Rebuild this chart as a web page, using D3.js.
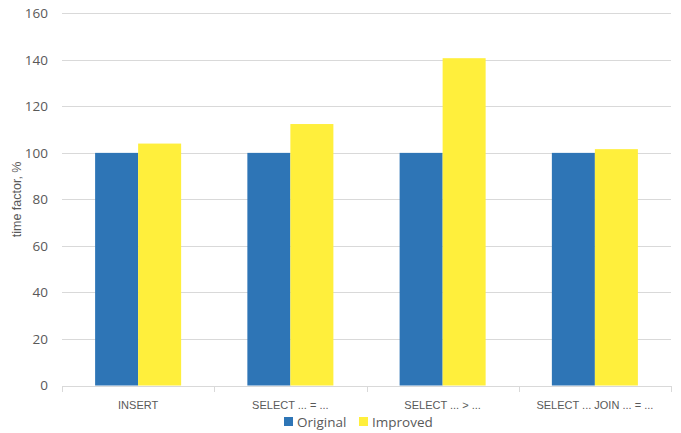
<!DOCTYPE html>
<html>
<head>
<meta charset="utf-8">
<script src="https://cdn.jsdelivr.net/npm/d3@7"></script>
<style>
html,body{margin:0;padding:0;background:#fff;}
text{font-family:"Open Sans","Liberation Sans",sans-serif;fill:#595959;}
</style>
</head>
<body>
<svg id="chart" width="681" height="433"></svg>
<script>
const categories = ["INSERT", "SELECT ... = ...", "SELECT ... > ...", "SELECT ... JOIN ... = ..."];
const seriesNames = ["Original", "Improved"];
const original = [100, 100, 100, 100];
const improved = [104, 112.4, 140.7, 101.6];
const yTicks = [0, 20, 40, 60, 80, 100, 120, 140, 160];
const colors = ["#2e75b6", "#ffef3c"];

const svg = d3.select("#chart");
const plotLeft = 62, plotRight = 671, plotTop = 13.3, plotBottom = 385.5;

const x = d3.scaleBand().domain(categories).range([plotLeft, plotRight]).paddingInner(0.435).paddingOuter(0.2175);
const xs = d3.scaleBand().domain(seriesNames).range([0, x.bandwidth()]);
const y = d3.scaleLinear().domain([0, 160]).range([plotBottom, plotTop]);

// gridlines
svg.append("g").selectAll("line").data(yTicks.filter(d => d > 0)).join("line")
  .attr("x1", plotLeft).attr("x2", plotRight)
  .attr("y1", d => Math.round(y(d)) + 0.5).attr("y2", d => Math.round(y(d)) + 0.5)
  .attr("stroke", "#d9d9d9").attr("stroke-width", 1);

// y tick labels
svg.append("g").selectAll("text").data(yTicks).join("text")
  .attr("x", 48).attr("y", d => y(d)).attr("dy", "0.35em")
  .attr("text-anchor", "end").style("font-size", "13.5px").text(d => d);

// bars
const data = categories.map((c, i) => ({c, vals: [original[i], improved[i]]}));
const groups = svg.append("g").selectAll("g").data(data).join("g")
  .attr("transform", d => `translate(${x(d.c)},0)`);
groups.selectAll("rect").data(d => d.vals.map((v, j) => ({v, s: seriesNames[j], j}))).join("rect")
  .attr("x", d => xs(d.s)).attr("width", xs.bandwidth())
  .attr("y", d => y(d.v)).attr("height", d => y(0) - y(d.v))
  .attr("fill", d => colors[d.j]);

// x axis line and ticks
const boundaries = categories.map((c, i) => plotLeft + i * x.step());
boundaries.push(plotRight);
svg.append("line").attr("x1", plotLeft).attr("x2", plotRight)
  .attr("y1", Math.round(plotBottom) + 0.5).attr("y2", Math.round(plotBottom) + 0.5)
  .attr("stroke", "#d9d9d9");
svg.append("g").selectAll("line").data(boundaries).join("line")
  .attr("x1", d => Math.round(d) + 0.5).attr("x2", d => Math.round(d) + 0.5)
  .attr("y1", Math.round(plotBottom)).attr("y2", Math.round(plotBottom) + 6)
  .attr("stroke", "#d9d9d9");

// category labels
svg.append("g").selectAll("text").data(categories).join("text")
  .attr("x", d => x(d) + x.bandwidth() / 2).attr("y", 405).attr("dy", "0.35em")
  .attr("text-anchor", "middle").style("font-family", "'Liberation Sans', sans-serif")
  .style("font-size", "11px").text(d => d);

// y axis title
svg.append("text").attr("transform", `translate(17,${(plotTop + plotBottom) / 2}) rotate(-90)`)
  .attr("text-anchor", "middle").attr("dy", "0.35em")
  .style("font-family", "'Liberation Sans', sans-serif").style("font-size", "12.5px").text("time factor, %");

// legend
const legend = svg.append("g");
const legendItems = [{name: seriesNames[0], x: 284}, {name: seriesNames[1], x: 359}];
legendItems.forEach((it, i) => {
  legend.append("rect").attr("x", it.x).attr("y", 417).attr("width", 9).attr("height", 9).attr("fill", colors[i]);
  legend.append("text").attr("x", it.x + 13).attr("y", 422).attr("dy", "0.35em")
    .style("font-size", "13.5px").text(it.name);
});
</script>
</body>
</html>
